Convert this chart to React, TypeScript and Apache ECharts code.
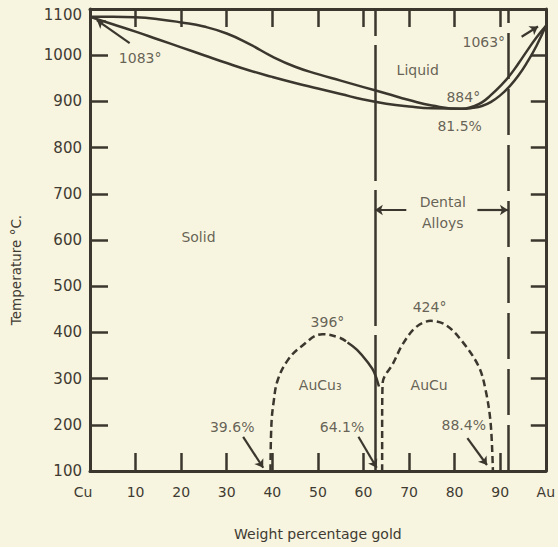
import React, { useEffect, useRef } from 'react';
import * as echarts from 'echarts';

// Liquidus (upper) curve: weight % gold vs temperature °C
const liquidusGold = [0, 5, 10, 15, 20, 25, 30, 35, 40, 45, 50, 55, 60, 65, 70, 75, 81.5, 84, 86, 88, 90, 92, 94, 96, 98, 100];
const liquidusTemp = [1083, 1083, 1082, 1078, 1071, 1062, 1047, 1024, 997, 975, 959, 945, 931, 917, 903, 891, 884, 889, 898, 914, 933, 955, 982, 1011, 1039, 1063];
// Solidus (lower) curve
const solidusGold = [0, 5, 10, 15, 20, 25, 30, 35, 40, 45, 50, 55, 60, 65, 70, 75, 81.5, 84, 86, 88, 90, 92, 94, 96, 98, 100];
const solidusTemp = [1083, 1067, 1051, 1034, 1017, 1000, 983, 967, 953, 940, 928, 916, 904, 895, 889, 885, 884, 886, 890, 899, 913, 932, 956, 986, 1021, 1063];

// AuCu3 ordering dome (dashed part, then solid right shoulder)
const auCu3DashGold = [39.6, 39.8, 40.3, 41.2, 43.4, 46.3, 51, 54.9, 56.5];
const auCu3DashTemp = [100, 200, 250, 297, 340, 369, 396, 388, 378];
const auCu3SolidGold = [56.5, 58.6, 61.1, 62.3, 63.4];
const auCu3SolidTemp = [378, 362, 333, 315, 283];

// AuCu ordering dome
const auCuGold = [64.1, 64.1, 64.2, 66.5, 68.7, 71.6, 74.8, 78.1, 81.7, 85.3, 86.8, 87.9, 88.4];
const auCuTemp = [100, 200, 290, 333, 376, 412, 425, 416, 380, 326, 275, 204, 100];

// Dental alloy range limits (weight % gold)
const dentalLimits = [62.5, 91.7];

// Annotation labels: gold %, temperature, text
const annotationGold = [11.0, 86.4, 71.9, 81.9, 81.1, 23.8, 52.1, 74.5, 50.5, 74.4, 31.2, 55.3, 82.0, 77.4, 77.4];
const annotationTemp = [994, 1029, 968, 910, 847, 606, 423, 455, 286, 286, 195, 195, 200, 683, 637];
const annotationText = ['1083°', '1063°', 'Liquid', '884°', '81.5%', 'Solid', '396°', '424°', 'AuCu₃', 'AuCu', '39.6%', '64.1%', '88.4%', 'Dental', 'Alloys'];

// Arrows: from [gold, temp] to [gold, temp]
const arrowFrom = [[8.7, 1026], [94.7, 1040], [33.6, 174], [58.9, 174], [82.8, 171], [69.4, 665], [85.0, 665]];
const arrowTo = [[1.5, 1076], [98.3, 1062], [38.0, 107], [62.9, 107], [87.1, 113], [62.5, 665], [91.7, 665]];

const xTicks = { min: 0, max: 100, interval: 10 };
const yTicks = { min: 100, max: 1100, interval: 100 };

const BG = '#f7f4df';
const INK = '#3b372e';
const TEXT = '#3f3b32';
const FONT = 'DejaVu Sans';

const zip = (a: number[], b: number[]) => a.map((v, i) => [v, b[i]]);

export default function App() {
  const ref = useRef<HTMLDivElement>(null);
  useEffect(() => {
    if (!ref.current) return;
    const chart = echarts.init(ref.current, undefined, { renderer: 'svg' });

    const axisLine = { show: true, onZero: false, lineStyle: { color: INK, width: 3 } };
    const tick = (len: number) => ({ show: true, inside: true, length: len, lineStyle: { color: INK, width: 2.5 } });

    chart.setOption({
      animation: false,
      backgroundColor: BG,
      grid: { left: 90, right: 7, top: 9, bottom: 76 },
      xAxis: [
        {
          type: 'value', ...xTicks, position: 'bottom',
          axisLine, axisTick: tick(18), splitLine: { show: false },
          axisLabel: {
            margin: 14, color: TEXT, fontFamily: FONT, fontSize: 14,
            formatter: (v: number) => (v === 0 ? '{cu|Cu}' : v === 100 ? 'Au' : String(v)),
            rich: { cu: { padding: [0, 14, 0, 0], color: TEXT, fontFamily: FONT, fontSize: 14 } },
          },
          name: 'Weight percentage gold', nameLocation: 'middle', nameGap: 56,
          nameTextStyle: { color: TEXT, fontFamily: FONT, fontSize: 14 },
        },
        {
          type: 'value', ...xTicks, position: 'top',
          axisLine, axisTick: tick(18), axisLabel: { show: false }, splitLine: { show: false },
        },
      ],
      yAxis: [
        {
          type: 'value', ...yTicks, position: 'left',
          axisLine, axisTick: tick(18), splitLine: { show: false },
          axisLabel: {
            margin: 8, color: TEXT, fontFamily: FONT, fontSize: 15,
            formatter: (v: number) => (v === 1100 ? '{top|1100}' : String(v)),
            rich: { top: { padding: [12, 0, 0, 0], color: TEXT, fontFamily: FONT, fontSize: 15 } },
          },
        },
        {
          type: 'value', ...yTicks, position: 'right',
          axisLine, axisTick: tick(15), axisLabel: { show: false }, splitLine: { show: false },
        },
      ],
      graphic: [
        {
          type: 'text', x: 16, y: 270, rotation: Math.PI / 2,
          style: {
            text: 'Temperature °C.', fill: TEXT, font: `13.5px "${FONT}"`,
            align: 'center', verticalAlign: 'middle',
          },
        },
      ],
      series: [
        {
          type: 'line', name: 'Liquidus', data: zip(liquidusGold, liquidusTemp),
          smooth: 0.5,
          showSymbol: false, lineStyle: { color: INK, width: 2.5 }, silent: true,
          markLine: {
            silent: true, symbol: ['none', 'arrow'], symbolSize: 8,
            label: { show: false }, lineStyle: { color: INK, width: 2.2, type: 'solid' },
            data: arrowFrom.map((f, i) => [{ coord: f }, { coord: arrowTo[i] }]),
          },
        },
        {
          type: 'line', name: 'Solidus', data: zip(solidusGold, solidusTemp),
          smooth: 0.5,
          showSymbol: false, lineStyle: { color: INK, width: 2.5 }, silent: true,
          markLine: {
            silent: true, symbol: ['none', 'none'],
            label: { show: false },
            data: dentalLimits.map((g, i) => ({
              xAxis: g,
              lineStyle: { color: INK, width: 2.5, type: i === 0 ? [136, 9] : [46, 10] },
            })),
          },
        },
        {
          type: 'line', name: 'AuCu3 dashed', data: zip(auCu3DashGold, auCu3DashTemp), smooth: 0.4,
          showSymbol: false, lineStyle: { color: INK, width: 2.5, type: [7, 4] }, silent: true,
        },
        {
          type: 'line', name: 'AuCu3 solid', data: zip(auCu3SolidGold, auCu3SolidTemp), smooth: 0.4,
          showSymbol: false, lineStyle: { color: INK, width: 2.5 }, silent: true,
        },
        {
          type: 'line', name: 'AuCu', data: zip(auCuGold, auCuTemp), smooth: 0.35,
          showSymbol: false, lineStyle: { color: INK, width: 2.5, type: [7, 4] }, silent: true,
        },
        {
          type: 'scatter', name: 'Annotations', silent: true, symbolSize: 0,
          data: annotationText.map((t, i) => ({ value: [annotationGold[i], annotationTemp[i]], name: t })),
          label: {
            show: true, position: 'inside', formatter: (p: any) => p.name,
            color: TEXT, fontFamily: FONT, fontSize: 14,
          },
        },
      ],
    });
    return () => chart.dispose();
  }, []);
  return <div ref={ref} style={{ position: 'fixed', left: 0, top: 0, width: 558, height: 547 }} />;
}
